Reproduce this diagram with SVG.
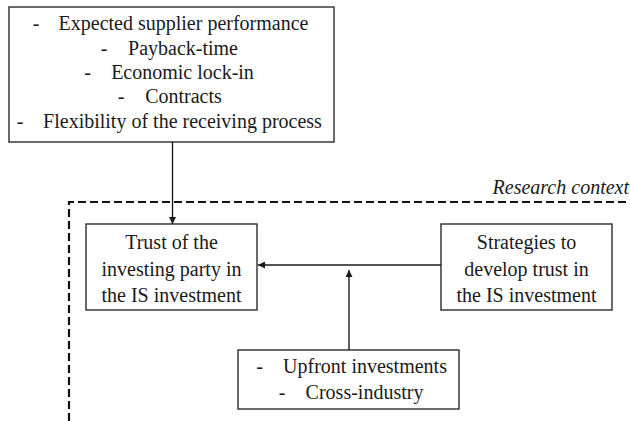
<svg xmlns="http://www.w3.org/2000/svg" width="630" height="421" viewBox="0 0 630 421">
  <style>
    .box { fill: #ffffff; stroke: #2b2b2b; stroke-width: 1.4; }
    .edge { stroke: #1a1a1a; stroke-width: 1.4; fill: none; }
    .ctx { stroke: #111111; stroke-width: 2.2; stroke-dasharray: 8 4; fill: none; }
    text { font-family: "Liberation Serif", "Times New Roman", serif; font-size: 20px; fill: #1a1a1a; }
  </style>
  <defs>
    <marker id="arrow" viewBox="0 0 10 10" refX="10" refY="5" markerWidth="7" markerHeight="7" markerUnits="userSpaceOnUse" orient="auto">
      <path d="M0,0 L10,5 L0,10 z" fill="#1a1a1a"/>
    </marker>
  </defs>
  <rect width="630" height="421" fill="#ffffff"/>

  <!-- research context boundary -->
  <g id="context">
    <path class="ctx" d="M69,421 L69,202 L630,202"/>
    <text x="629" y="194" font-style="italic" text-anchor="end">Research context</text>
  </g>

  <!-- antecedents of trust -->
  <g id="factors" text-anchor="middle">
    <rect class="box" x="9" y="7" width="325" height="135"/>
    <text x="36" y="30">-</text>
    <text x="183.5" y="30">Expected supplier performance</text>
    <text x="104" y="55">-</text>
    <text x="183" y="55">Payback-time</text>
    <text x="87.5" y="79">-</text>
    <text x="182.5" y="79">Economic lock-in</text>
    <text x="121" y="103">-</text>
    <text x="183.5" y="103">Contracts</text>
    <text x="20" y="128">-</text>
    <text x="182.5" y="128">Flexibility of the receiving process</text>
  </g>

  <g id="trust" text-anchor="middle">
    <rect class="box" x="86" y="224" width="171" height="86"/>
    <text x="171.5" y="249">Trust of the</text>
    <text x="171.5" y="276">investing party in</text>
    <text x="171.5" y="302">the IS investment</text>
  </g>

  <g id="strategies" text-anchor="middle">
    <rect class="box" x="441" y="224" width="171" height="86"/>
    <text x="526.5" y="249">Strategies to</text>
    <text x="526.5" y="276">develop trust in</text>
    <text x="526.5" y="302">the IS investment</text>
  </g>

  <g id="moderators" text-anchor="middle">
    <rect class="box" x="238" y="350" width="221" height="59"/>
    <text x="259.5" y="373">-</text>
    <text x="365" y="373">Upfront investments</text>
    <text x="282" y="399">-</text>
    <text x="364.5" y="399">Cross-industry</text>
  </g>

  <g id="connectors">
    <line class="edge" x1="172.5" y1="142" x2="172.5" y2="224" marker-end="url(#arrow)"/>
    <line class="edge" x1="441" y1="265" x2="258" y2="265" marker-end="url(#arrow)"/>
    <line class="edge" x1="349" y1="350" x2="349" y2="270" marker-end="url(#arrow)"/>
  </g>
</svg>
